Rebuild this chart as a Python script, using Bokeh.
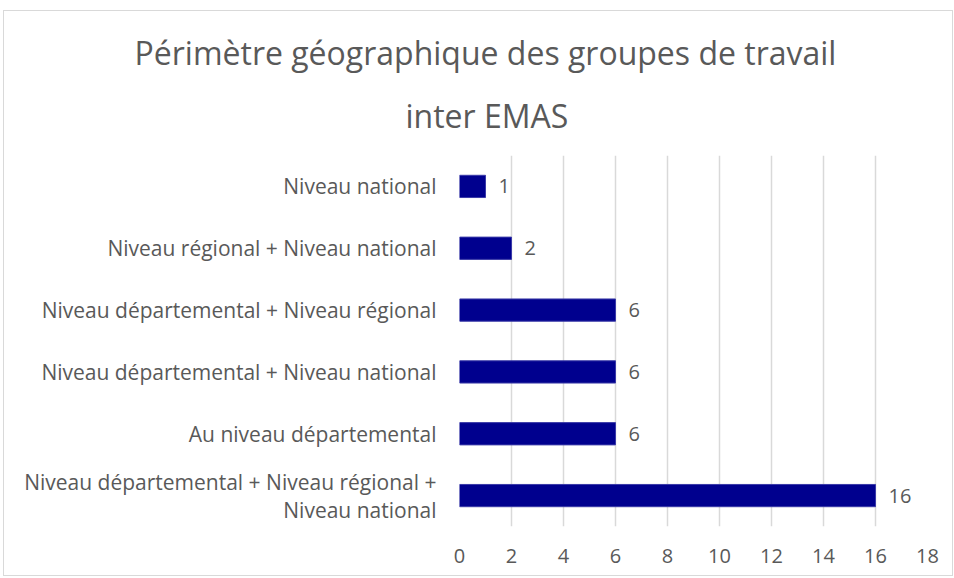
from bokeh.plotting import figure
from bokeh.models import ColumnDataSource, FactorRange, Range1d, FixedTicker, Title
from bokeh.core.properties import value
from bokeh.embed import file_html
from bokeh.resources import INLINE

# Data (top to bottom as displayed)
categories = [
    "Niveau national",
    "Niveau régional + Niveau national",
    "Niveau départemental + Niveau régional",
    "Niveau départemental + Niveau national",
    "Au niveau départemental",
    "Niveau départemental + Niveau régional +\nNiveau national",
]
counts = [1, 2, 6, 6, 6, 16]
x_ticks = [0, 2, 4, 6, 8, 10, 12, 14, 16, 18]
title_lines = ["Périmètre géographique des groupes de travail", "inter EMAS"]

FONT = "Open Sans"
TXT = "#595959"

factors = list(reversed(categories))
src = ColumnDataSource(dict(cat=categories, val=counts, lab=[str(v) for v in counts]))

p = figure(
    width=950, height=566,
    y_range=FactorRange(*factors, range_padding=0),
    x_range=Range1d(0, 18),
    output_backend="svg", toolbar_location=None,
    min_border_left=455, min_border_right=27, min_border_bottom=51, min_border_top=144,
)
p.title = None
# second line nearest the plot, first line above it
p.add_layout(Title(text=title_lines[1], align="left", offset=-54, text_font=FONT,
                   text_font_size="32px", text_font_style="normal", text_color=TXT,
                   text_line_height=1.0, standoff=37), "above")
p.add_layout(Title(text=title_lines[0], align="left", offset=-325, text_font=FONT,
                   text_font_size="32px", text_font_style="normal", text_color=TXT,
                   text_line_height=0.95, standoff=0), "above")

p.hbar(y="cat", right="val", left=0, height=0.36, source=src,
       fill_color="#00008E", line_color="#3a3aa8", line_width=1)
p.text(x="val", y="cat", text="lab", source=src, x_offset=13,
       text_align="left", text_baseline="middle",
       text_font=value(FONT), text_font_size="20px", text_color=TXT)

p.outline_line_color = None
p.ygrid.grid_line_color = None
p.xgrid.grid_line_color = "#d9d9d9"
p.xgrid.grid_line_width = 1.5
p.xaxis.ticker = FixedTicker(ticks=x_ticks)
for ax in (p.xaxis[0], p.yaxis[0]):
    ax.axis_line_color = None
    ax.major_tick_line_color = None
    ax.minor_tick_line_color = None
    ax.major_label_text_font = FONT
    ax.major_label_text_color = TXT
p.xaxis.major_label_text_font_size = "20px"
p.yaxis.major_label_text_font_size = "21px"
p.yaxis.major_label_text_line_height = 1.0
p.xaxis.major_label_standoff = 16
p.yaxis.major_label_standoff = 17
p.styles = {"border": "1px solid #d9d9d9", "margin-left": "3px", "margin-top": "10px"}

open("out.html", "w").write(file_html(p, INLINE))
